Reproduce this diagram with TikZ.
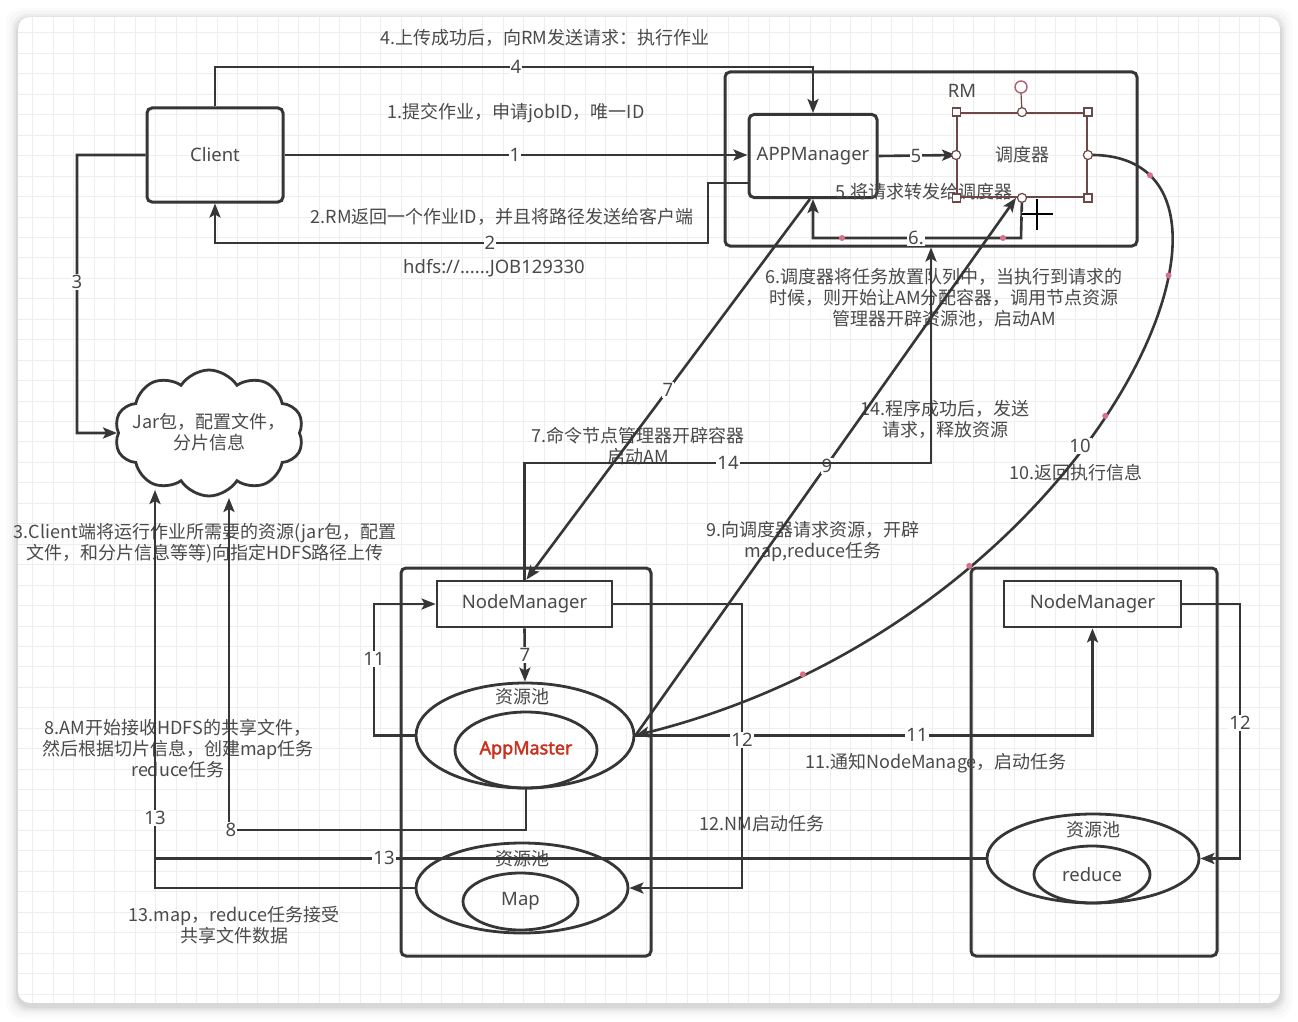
\documentclass[tikz,border=0pt]{standalone}
\usepackage{fontspec}
\setmainfont{Noto Sans CJK SC}
\newfontfamily\lat{Noto Sans}
\newfontfamily\latb[FakeBold=2.2]{Noto Sans}
\usetikzlibrary{shapes.geometric,shapes.symbols,arrows.meta,calc}
\definecolor{ln}{HTML}{363636}
\definecolor{tx}{HTML}{4A4A4A}
\definecolor{gridc}{HTML}{EEEEEE}
\definecolor{brn}{HTML}{6E4848}
\definecolor{pk}{HTML}{D9718A}
\definecolor{amc}{HTML}{C8321E}
\newcommand\fs{\fontsize{18}{21}\selectfont}
\newcommand\fl{\lat\fontsize{18.5}{21}\selectfont}
\tikzset{
  conn/.style={draw=ln, line width=2.6pt},
  arr/.style={conn, -{Stealth[length=14pt,width=11pt,inset=3pt]}},
  box/.style={draw=ln, line width=3pt, rounded corners=5pt, text=tx, font=\fl, inner sep=0pt},
  nmbox/.style={draw=ln, line width=2.8pt, text=tx, font=\fl, minimum height=46pt, inner sep=0pt},
  ell/.style={ellipse, draw=ln, line width=2.8pt, inner sep=0pt, text=tx, font=\fl},
  lab/.style={fill=white, text=tx, font=\fl, inner sep=1pt},
  txt/.style={text=tx, font=\fs, align=center, inner sep=0pt},
  pdot/.style={circle, fill=pk, inner sep=0pt, minimum size=6pt},
}
\begin{document}
\begin{tikzpicture}[x=1pt,y=-1pt]
\useasboundingbox (0,0) rectangle (1298,1022);
\fill[white] (0,0) rectangle (1298,1022);
% card shadow
\foreach \i/\o in {12/0.015,9/0.02,6/0.03,4/0.04,2/0.05}
  \fill[black, opacity=\o, rounded corners=14pt] (18-\i,17-\i+3) rectangle (1280+\i,1003+\i+3);
\begin{scope}
  \clip[rounded corners=12pt] (18,17) rectangle (1280,1003);
  \fill[white] (18,17) rectangle (1280,1003);
  \foreach \k in {0,...,62} {
    \draw[gridc, line width=1pt] ({12.5+\k*20.45},17) -- ({12.5+\k*20.45},1003);
    \draw[gridc, line width=1pt] (18,{12.5+\k*20.45}) -- (1280,{12.5+\k*20.45});
  }
\end{scope}

% containers
\node[box, minimum width=412pt, minimum height=174pt] (rm) at (931,159) {};
\node[box, minimum width=250pt, minimum height=388pt] (lc) at (526,762) {};
\node[box, minimum width=246pt, minimum height=388pt] (rc) at (1094,762) {};

% nodes
\node[box, minimum width=136pt, minimum height=94pt] (client) at (215,155) {Client};
\node[box, minimum width=128pt, minimum height=83pt] (appm) at (813,156) {APPManager};
\node[txt] (t5) at (924,192) {5.将请求转发给调度器};
\node[draw=brn, line width=1.8pt, minimum width=130pt, minimum height=84pt, inner sep=0pt, text=tx, font=\fs] (sched) at (1022,155) {调度器};
\node[txt] (rmt) at (962,91) {\fl RM};

\node[cloud, cloud puffs=10, cloud puff arc=115, aspect=1.5, draw=ln, line width=2.8pt, fill=white, minimum width=189pt, minimum height=126pt, inner sep=0pt] (cloud) at (209,433) {};
\node[txt] (cloudt) at (209,432) {Jar包，配置文件，\\分片信息};
\coordinate (c8) at (229,498);
\coordinate (c13) at (155,490);

\node[nmbox, minimum width=175pt] (nm1) at (524.5,604) {NodeManager};
\node[nmbox, minimum width=177pt] (nm2) at (1092.5,604) {NodeManager};
\node[ell, minimum width=218pt, minimum height=105pt] (pool1) at (525,735.5) {};
\node[ell, minimum width=142pt, minimum height=76pt, text=amc, font=\latb\fontsize{18}{21}\selectfont] (am) at (526,750) {AppMaster};
\node[ell, minimum width=212pt, minimum height=90pt] (pool2) at (522,888) {};
\node[ell, minimum width=115pt, minimum height=57pt] (map) at (520.5,901.5) {Map};
\node[ell, minimum width=212pt, minimum height=89pt] (pool3) at (1093,858.5) {};
\node[ell, minimum width=116pt, minimum height=57pt] (reduce) at (1092,874.5) {reduce};
\node[txt] (p1t) at (522,697) {资源池};
\node[txt] (p2t) at (522,859) {资源池};
\node[txt] (p3t) at (1093,830) {资源池};

% free texts
\node[txt] (t4) at (545,38) {4.上传成功后，向RM发送请求：执行作业};
\node[txt] (t1) at (516,113) {1.提交作业，申请jobID，唯一ID};
\node[txt] (t2) at (502,217) {2.RM返回一个作业ID，并且将路径发送给客户端};
\node[txt, font=\fl] (thd) at (494,268) {hdfs://......JOB129330};
\node[txt] (t6) at (944,298) {6.调度器将任务放置队列中，当执行到请求的\\时候，则开始让AM分配容器，调用节点资源\\管理器开辟资源池，启动AM};
\node[txt] (t7) at (638,446) {7.命令节点管理器开辟容器\\启动AM};
\node[txt] (t14) at (945,419) {14.程序成功后，发送\\请求，释放资源};
\node[txt] (t10) at (1076,473) {10.返回执行信息};
\node[txt] (t9) at (813,541) {9.向调度器请求资源，开辟\\map,reduce任务};
\node[txt] (t3) at (205,543) {3.Client端将运行作业所需要的资源(jar包，配置\\文件，和分片信息等等)向指定HDFS路径上传};
\node[txt] (t8) at (178,749) {8.AM开始接收HDFS的共享文件，\\然后根据切片信息，创建map任务\\reduce任务};
\node[txt] (t11) at (936,763) {11.通知NodeManage，启动任务};
\node[txt] (t12) at (762,824) {12.NM启动任务};
\node[txt] (t13) at (234,925) {13.map，reduce任务接受\\共享文件数据};

% connectors
\draw[arr] (client.east) -- (client.east -| appm.west);
\node[lab] at (515,155) {1};
\draw[arr] (appm.west |- 0,183) -- (708,183) -- (708,243) -- (215,243) -- (client.south);
\node[lab] at (490,243) {2};
\draw[arr] (client.west) -- (77,155) -- (77,433) -- (cloud.west);
\node[lab] at (77,282) {3};
\draw[arr] (client.north) -- (215,67) -- (813,67) -- (appm.north);
\node[lab] at (516,67) {4};
\draw[arr] (appm.east) -- (sched.west);
\node[lab] at (916,156) {5};
\draw[arr] (sched.south) -- (1021,238) -- (813,238) -- (appm.south);
\node[lab] at (916,238) {6.};
\draw[arr] ([xshift=-3pt]appm.south) -- ([xshift=2pt]nm1.north);
\node[lab] at (668,390) {7};
\draw[arr] (nm1.south) -- (pool1.north);
\node[lab] at (525,655) {7};
\draw[arr] (am.south) -- (526,830) -- (229,830) -- (c8);
\node[lab] at (231,830) {8};
\draw[arr] (pool1.east) -- ([xshift=-6pt]sched.south);
\node[lab] at (827,466) {9};
\draw[arr] (sched.east) .. controls (1300,150) and (1100,620) .. (pool1.east)
  node[pdot, pos=0.13] {} node[pdot, pos=0.33] {} node[pdot, pos=0.52] {} node[pdot, pos=0.71] {} node[pdot, pos=0.87] {};
\node[lab] at (1080,446) {10};
\draw[arr] (pool1.west) -- (374,735.5) -- (374,604) -- (nm1.west);
\node[lab] at (374,659) {11};
\draw[arr] (pool1.east) -| (nm2.south);
\node[lab] at (917,735) {11};
\draw[arr] (nm1.east) -- (742,604) -- (742,888) -- (pool2.east);
\node[lab] at (742,740) {12};
\draw[arr] (nm2.east) -- (1240,604) -- (1240,858.5) -- (pool3.east);
\node[lab] at (1240,723) {12};
\draw[arr] (pool2.west) -| (c13);
\node[lab] at (155,818) {13};
\draw[conn] (pool3.west) -- (155,858.5);
\node[lab] at (384,858) {13};
\draw[arr] (nm1.north) -- (524.5,463) -| (rm.south);
\node[lab] at (728,463) {14};

% selection handles / waypoints
\foreach \p in {(842,238),(1003,238)}
  \fill[pk] \p circle (3pt);
\draw[brn, line width=1.2pt] (sched.north) -- (1021,93);
\draw[pk!60!brn, fill=white, line width=1.4pt] (1021,87) circle (6pt);
\foreach \a in {north west, north east, south west, south east}
  \draw[brn, fill=white, line width=1.2pt] ($(sched.\a)+(-4,-4)$) rectangle ++(8,8);
\foreach \a in {west, east, north, south}
  \draw[brn, fill=white, line width=1.2pt] (sched.\a) circle (4.5pt);
% cursor
\draw[white, line width=5pt] (1022,214) -- (1053,214) (1037,199) -- (1037,230);
\draw[black, line width=2.6pt] (1022,214) -- (1053,214) (1037,199) -- (1037,230);
\end{tikzpicture}
\end{document}
